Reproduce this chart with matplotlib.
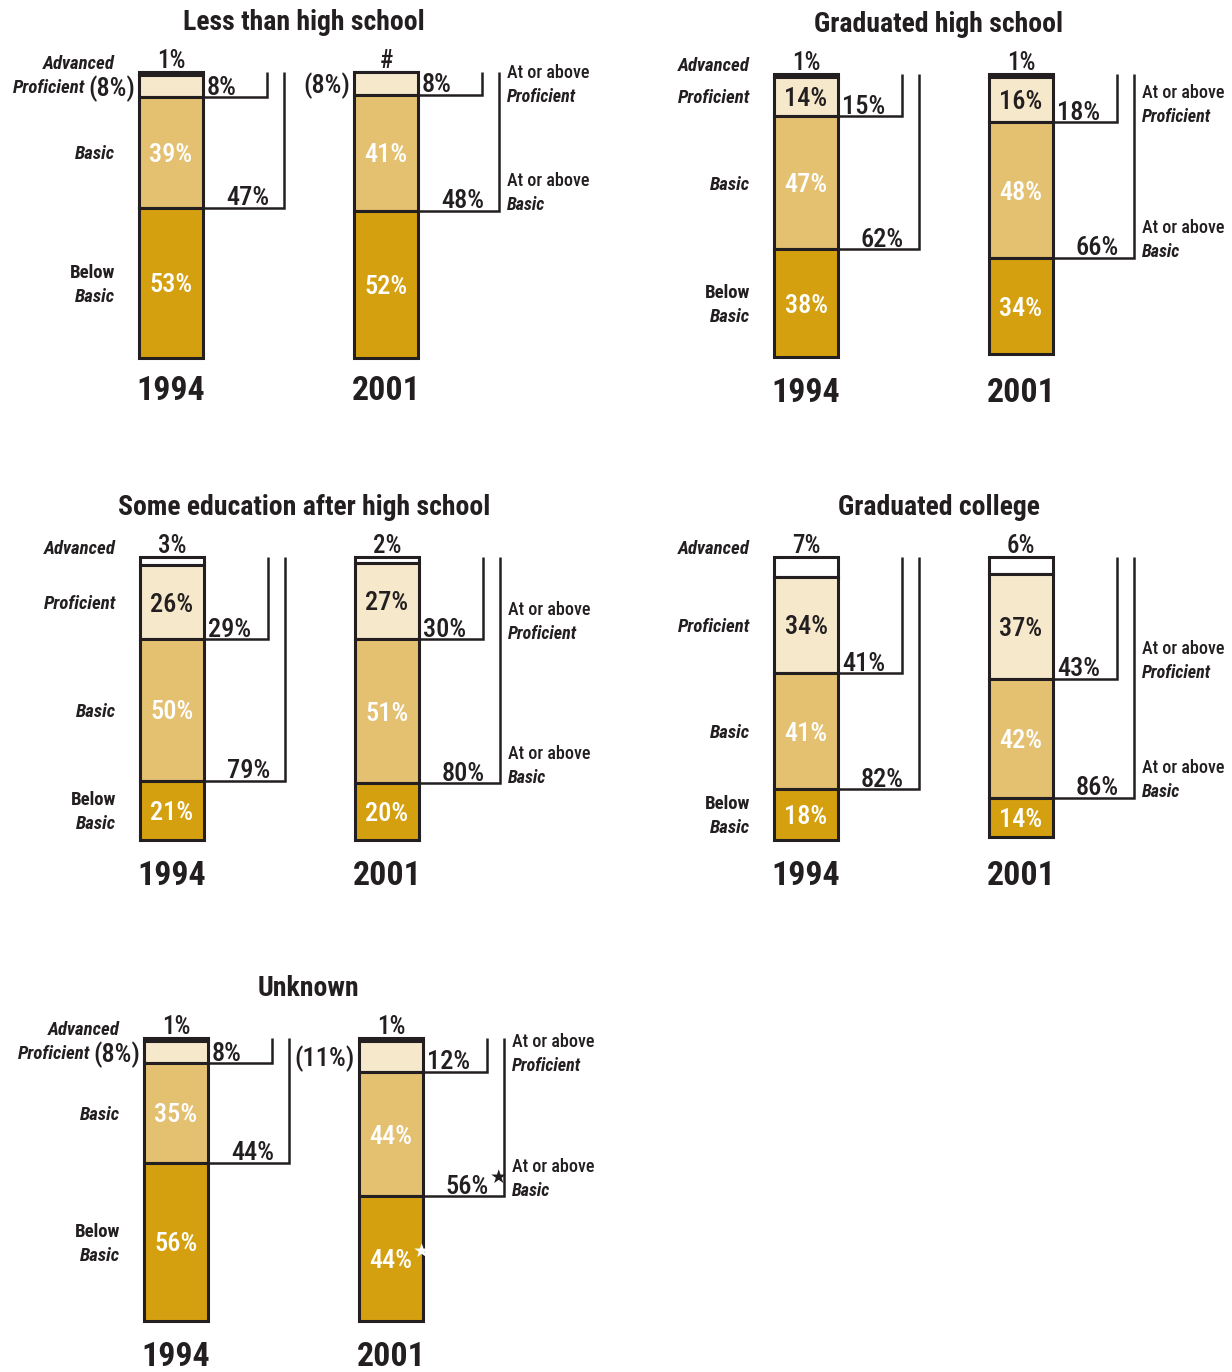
import os
import matplotlib
matplotlib.use("Agg")
import matplotlib.pyplot as plt
from matplotlib import font_manager as fm
from matplotlib.font_manager import FontProperties

# ---------------------------------------------------------------- data
titles = ["Less than high school", "Graduated high school",
          "Some education after high school", "Graduated college", "Unknown"]
years = ["1994", "2001"]
# percent of students at each achievement level, [1994, 2001] per panel
advanced = [[1, 0], [1, 1], [3, 2], [7, 6], [1, 1]]
proficient = [[8, 8], [14, 16], [26, 27], [34, 37], [8, 11]]
basic = [[39, 41], [47, 48], [50, 51], [41, 42], [35, 44]]
below_basic = [[53, 52], [38, 34], [21, 20], [18, 14], [56, 44]]
at_or_above_proficient = [[8, 8], [15, 18], [29, 30], [41, 43], [8, 12]]
at_or_above_basic = [[47, 48], [62, 66], [79, 80], [82, 86], [44, 56]]
# significantly different from 1994
below_basic_sig = [[False, False], [False, False], [False, False],
                   [False, False], [False, True]]
at_or_above_basic_sig = [[False, False], [False, False], [False, False],
                         [False, False], [False, True]]

# ---------------------------------------------------------------- style
EDGE = "#231f20"
C_ADV = "#ffffff"
C_PROF = "#f6e8cb"
C_BASIC = "#e4c071"
C_BELOW = "#d4a00f"

W_PX, H_PX, DPI = 1232, 1372, 100
PX_X = 215.0     # pixels per bar slot
PX_Y = 2.83      # pixels per percentage point
BAR_W = 64 / PX_X
B1 = 96 / PX_X   # inner bracket offset from bar centre
B2 = 113 / PX_X  # outer bracket offset from bar centre

# bar-top position (1994 bar centre x, top y) of every panel in pixels
origins = [(171, 72), (806, 74), (172, 557), (806, 557), (176, 1038)]


def dx(px):
    return px / PX_X


def dy(px):
    return px / PX_Y


def _wnum(w):
    if isinstance(w, str):
        return fm.weight_dict.get(w, 400)
    return w


def _narrow_entries():
    found = []
    for f in fm.fontManager.ttflist:
        key = (f.name + " " + os.path.basename(f.fname)).lower()
        stretch = str(f.stretch).lower()
        if "condensed" in key or "narrow" in key or "condensed" in stretch:
            found.append(f)
    return found


_NARROW = _narrow_entries()
_GROUP = None
for g in ["roboto", "liberation", "dejavu", "noto", "open", "lato", "inter"]:
    cands = [f for f in _NARROW if g in f.name.lower()]
    if cands:
        _GROUP = cands
        break
if _GROUP is None and _NARROW:
    _GROUP = _NARROW
SCALE = 1.0 if _GROUP else 0.8


def font(weight=400, italic=False):
    if _GROUP:
        def score(f):
            it = f.style in ("italic", "oblique")
            return abs(_wnum(f.weight) - weight) + (0 if it == italic else 1000)
        best = min(_GROUP, key=score)
        return FontProperties(fname=best.fname)
    return FontProperties(family="Liberation Sans", weight=weight,
                          style="italic" if italic else "normal")


F_TITLE = font(700)
F_YEAR = font(700)
F_NUM = font(500)
F_LAB_IT = font(700, italic=True)
F_LAB = font(700)
F_ATOR = font(500)

S_TITLE = 20 * SCALE
S_YEAR = 24.5 * SCALE
S_NUM = 19 * SCALE
S_TOP = 18 * SCALE
S_LAB = 13.5 * SCALE
S_ATOR = 13 * SCALE


def text_mid(ax, x, ymid, s, fp, size, color=EDGE, ha="center"):
    """Place text so that its cap height is centred on ymid."""
    cap_px = 0.36 * size * DPI / 72.0
    return ax.text(x, ymid + dy(cap_px), s, fontproperties=fp, size=size,
                   color=color, ha=ha, va="baseline", clip_on=False)


def add_star(ax, artist, color):
    ax.annotate("\u2605", xy=(1, 0.68), xycoords=artist, xytext=(0.5, 0),
                textcoords="offset points", ha="left", va="baseline",
                fontsize=14 * SCALE, family="DejaVu Sans", color=color,
                annotation_clip=False)


fig = plt.figure(figsize=(W_PX / DPI, H_PX / DPI), dpi=DPI, facecolor="white")

X_LO, X_HI = -0.85, 2.05
Y_TOP, Y_BOT = -25.0, 122.0

for p, (cx, ty) in enumerate(origins):
    left = cx + X_LO * PX_X
    width = (X_HI - X_LO) * PX_X
    top = ty + Y_TOP * PX_Y
    height = (Y_BOT - Y_TOP) * PX_Y
    ax = fig.add_axes([left / W_PX, 1 - (top + height) / H_PX,
                       width / W_PX, height / H_PX])
    ax.set_xlim(X_LO, X_HI)
    ax.set_ylim(Y_BOT, Y_TOP)
    ax.axis("off")

    text_mid(ax, 0.616, -dy(52), titles[p], F_TITLE, S_TITLE)

    for j in range(2):
        x = j
        a = advanced[p][j]
        pr = proficient[p][j]
        b = basic[p][j]
        bb = below_basic[p][j]
        segs = [a, pr, b, bb]
        cols = [C_ADV, C_PROF, C_BASIC, C_BELOW]
        bottom = 0
        starts = []
        for v, c in zip(segs, cols):
            ax.bar(x, v, bottom=bottom, width=BAR_W, color=c,
                   edgecolor=EDGE, linewidth=2.2, zorder=2)
            starts.append(bottom)
            bottom += v

        y1 = a + pr
        y2 = a + pr + b
        xr = x + BAR_W / 2
        xl = x - BAR_W / 2

        # brackets
        for xb, yb in ((x + B1, y1), (x + B2, y2)):
            ax.plot([xr, xb, xb], [yb, yb, 0], color=EDGE, lw=1.8,
                    solid_joinstyle="miter", solid_capstyle="butt", zorder=3)
        ax.text(xr + dx(4), y1 - dy(2.5), f"{at_or_above_proficient[p][j]}%",
                fontproperties=F_NUM, size=S_NUM, color=EDGE,
                ha="left", va="baseline")
        t2 = ax.text(x + B1 + dx(2), y2 - dy(2.5), f"{at_or_above_basic[p][j]}%",
                     fontproperties=F_NUM, size=S_NUM, color=EDGE,
                     ha="right", va="baseline")
        if at_or_above_basic_sig[p][j]:
            add_star(ax, t2, EDGE)

        # advanced value above the bar
        ax.text(x, -dy(4), f"{a}%" if a else "#", fontproperties=F_NUM,
                size=S_TOP, color=EDGE, ha="center", va="baseline")

        # proficient value: inside when there is room, otherwise beside
        pmid = starts[1] + pr / 2
        paren = None
        if pr >= 12:
            text_mid(ax, x, pmid, f"{pr}%", F_NUM, S_NUM, EDGE)
        else:
            paren = text_mid(ax, xl - dx(4), pmid, f"({pr}%)", F_NUM, S_NUM,
                             EDGE, ha="right")
        text_mid(ax, x, starts[2] + b / 2, f"{b}%", F_NUM, S_NUM, "white")
        tb = text_mid(ax, x, starts[3] + bb / 2, f"{bb}%", F_NUM, S_NUM, "white")
        if below_basic_sig[p][j]:
            add_star(ax, tb, "white")

        if j == 0:
            xlab = xl - dx(24)
            text_mid(ax, xlab, -dy(10), "Advanced", F_LAB_IT, S_LAB, ha="right")
            if paren is None:
                text_mid(ax, xlab, pmid, "Proficient", F_LAB_IT, S_LAB,
                         ha="right")
            else:
                ax.annotate("Proficient", xy=(0, 0.5), xycoords=paren,
                            xytext=(-2, 0), textcoords="offset points",
                            ha="right", va="center", fontproperties=F_LAB_IT,
                            size=S_LAB, color=EDGE, annotation_clip=False)
            text_mid(ax, xlab, starts[2] + b / 2, "Basic", F_LAB_IT, S_LAB,
                     ha="right")
            bmid = starts[3] + bb / 2
            text_mid(ax, xlab, bmid - dy(12), "Below", F_LAB, S_LAB, ha="right")
            text_mid(ax, xlab, bmid + dy(12), "Basic", F_LAB_IT, S_LAB,
                     ha="right")
        else:
            xlab = x + B2 + dx(8)
            m1 = max(y1 - dy(7), dy(24))
            text_mid(ax, xlab, m1 - dy(24), "At or above", F_ATOR, S_ATOR,
                     ha="left")
            text_mid(ax, xlab, m1, "Proficient", F_LAB_IT, S_ATOR, ha="left")
            m2 = y2 - dy(7)
            text_mid(ax, xlab, m2 - dy(24), "At or above", F_ATOR, S_ATOR,
                     ha="left")
            text_mid(ax, xlab, m2, "Basic", F_LAB_IT, S_ATOR, ha="left")

        # year under the bar
        text_mid(ax, x, dy(316), years[j], F_YEAR, S_YEAR)

fig.savefig("out.png", dpi=DPI, facecolor="white")
